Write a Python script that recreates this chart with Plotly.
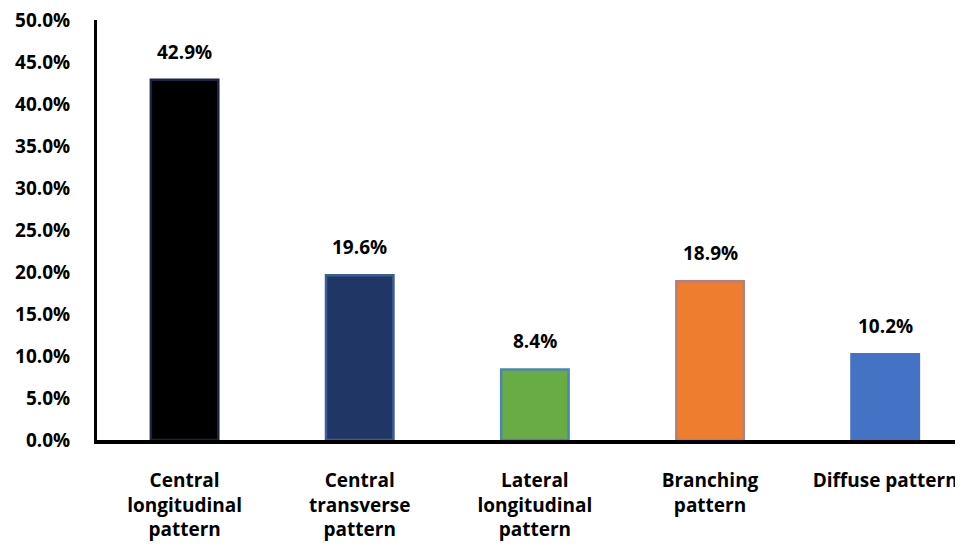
import plotly.graph_objects as go

categories = ["Central<br>longitudinal<br>pattern", "Central<br>transverse<br>pattern",
              "Lateral<br>longitudinal<br>pattern", "Branching<br>pattern", "Diffuse pattern"]
values = [42.9, 19.6, 8.4, 18.9, 10.2]
labels = ["42.9%", "19.6%", "8.4%", "18.9%", "10.2%"]
fill_colors = ["#000000", "#203765", "#6aac44", "#ee7d30", "#4472c4"]
line_colors = ["#1a2440", "#3d5c98", "#4a86b0", "#b87f78", "#4472c4"]
tick_vals = [0, 5, 10, 15, 20, 25, 30, 35, 40, 45, 50]
tick_text = ["0.0%", "5.0%", "10.0%", "15.0%", "20.0%", "25.0%", "30.0%", "35.0%", "40.0%", "45.0%", "50.0%"]

FONT = "Open Sans"
FS = 19

fig = go.Figure()
fig.add_trace(go.Bar(
    x=categories, y=values,
    marker=dict(color=fill_colors, line=dict(color=line_colors, width=2.5)),
    width=0.385,
    hoverinfo="skip",
))

for c, v, t in zip(categories, values, labels):
    fig.add_annotation(x=c, y=v, text=t, showarrow=False, yanchor="bottom", yshift=13,
                       font=dict(family=FONT, size=FS, color="#000000", weight="bold"))

fig.update_layout(
    width=963, height=546,
    margin=dict(l=89, r=0, t=12, b=114),
    paper_bgcolor="white", plot_bgcolor="white",
    showlegend=False,
    font=dict(family=FONT, color="#000000"),
)
fig.update_xaxes(
    range=[-0.5, 4.49],
    showline=True, linecolor="#000000", linewidth=4,
    showgrid=False, ticks="", zeroline=False, automargin=False,
    tickfont=dict(family=FONT, size=FS, color="#000000", weight="bold"),
    ticklabelstandoff=20, ticklabeloverflow="allow",
)
fig.update_yaxes(
    range=[0, 50],
    tickvals=tick_vals, ticktext=tick_text,
    showline=True, linecolor="#000000", linewidth=3,
    showgrid=False, ticks="", zeroline=False, automargin=False,
    tickfont=dict(family=FONT, size=FS, color="#000000", weight="bold"),
    ticklabelstandoff=20, ticklabeloverflow="allow",
)

fig.write_html("out.html")
